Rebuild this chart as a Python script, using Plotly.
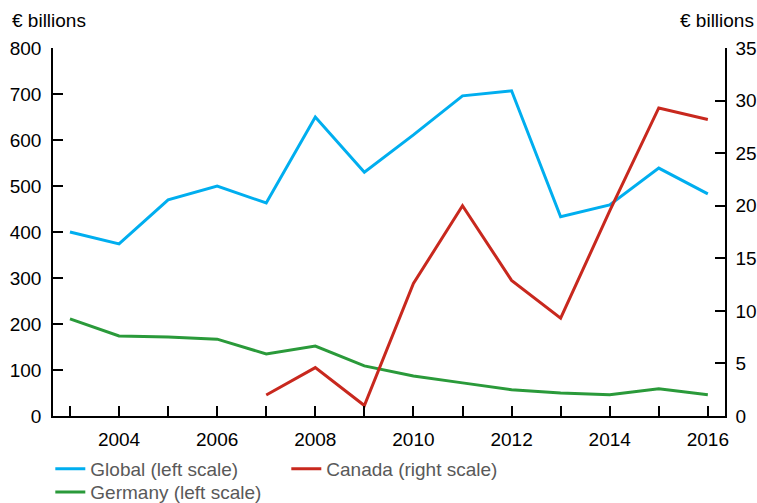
import plotly.graph_objects as go

years = list(range(2003, 2017))
global_vals = [400, 374, 470, 500, 463, 650, 530, 611, 696, 707, 433, 459, 539, 483]
germany_vals = [211, 174, 172, 167, 135, 152, 109, 87, 72, 57, 50, 46, 59, 46]
canada_years = list(range(2007, 2017))
canada_vals = [2.0, 4.6, 1.0, 12.6, 20.0, 12.9, 9.3, 19.5, 29.3, 28.2]

left_ticks = [0, 100, 200, 300, 400, 500, 600, 700, 800]
right_ticks = [0, 5, 10, 15, 20, 25, 30, 35]
x_ticks = [2004, 2006, 2008, 2010, 2012, 2014, 2016]

font = "Liberation Sans, Arial, Helvetica, sans-serif"
fs = 19

fig = go.Figure()
fig.add_trace(go.Scatter(x=years, y=global_vals, mode="lines", name="Global (left scale)",
                         line=dict(color="#00AEEF", width=3), legend="legend"))
fig.add_trace(go.Scatter(x=canada_years, y=canada_vals, mode="lines", name="Canada (right scale)",
                         yaxis="y2", line=dict(color="#C8281E", width=3), legend="legend"))
fig.add_trace(go.Scatter(x=years, y=germany_vals, mode="lines", name="Germany (left scale)",
                         line=dict(color="#2A9A3A", width=3), legend="legend2"))

leg_common = dict(orientation="h", xanchor="left", yanchor="top",
                  entrywidth=191, entrywidthmode="pixels", traceorder="normal",
                  font=dict(size=fs, color="#595959"), itemwidth=30,
                  bgcolor="rgba(0,0,0,0)")

fig.update_layout(
    width=757, height=503,
    margin=dict(l=53, r=32, t=48, b=87, autoexpand=False),
    paper_bgcolor="white", plot_bgcolor="white",
    font=dict(family=font, size=fs, color="black"),
    showlegend=True,
    legend=dict(x=-0.004, y=-0.092, **leg_common),
    legend2=dict(x=-0.004, y=-0.155, **leg_common),
    xaxis=dict(range=[2002.654, 2016.35], tickmode="array",
               tickvals=years, ticktext=[str(y) if y in x_ticks else "" for y in years],
               ticks="inside", ticklen=10, tickwidth=1.5, tickcolor="black",
               showline=True, linecolor="black", linewidth=1.5,
               showgrid=False, zeroline=False, ticklabelstandoff=5),
    yaxis=dict(range=[0, 800], tickmode="array", tickvals=left_ticks,
               ticks="inside", ticklen=10, tickwidth=1.5, tickcolor="black",
               showline=True, linecolor="black", linewidth=1.5,
               showgrid=False, zeroline=False, ticklabelstandoff=6),
    yaxis2=dict(range=[0, 35], tickmode="array", tickvals=right_ticks,
                overlaying="y", side="right",
                ticks="inside", ticklen=10, tickwidth=1.5, tickcolor="black",
                showline=True, linecolor="black", linewidth=1.5,
                showgrid=False, zeroline=False, ticklabelstandoff=5),
    annotations=[
        dict(text="€ billions", xref="paper", yref="paper", x=-0.064, y=1.0,
             yshift=28, xanchor="left", yanchor="middle", showarrow=False,
             font=dict(size=fs, color="black")),
        dict(text="€ billions", xref="paper", yref="paper", x=1.0, y=1.0,
             xshift=31, yshift=28, xanchor="right", yanchor="middle", showarrow=False,
             font=dict(size=fs, color="black")),
    ],
)

fig.write_html("out.html", config={"displayModeBar": False},
               post_script="document.body.style.margin='0';")
